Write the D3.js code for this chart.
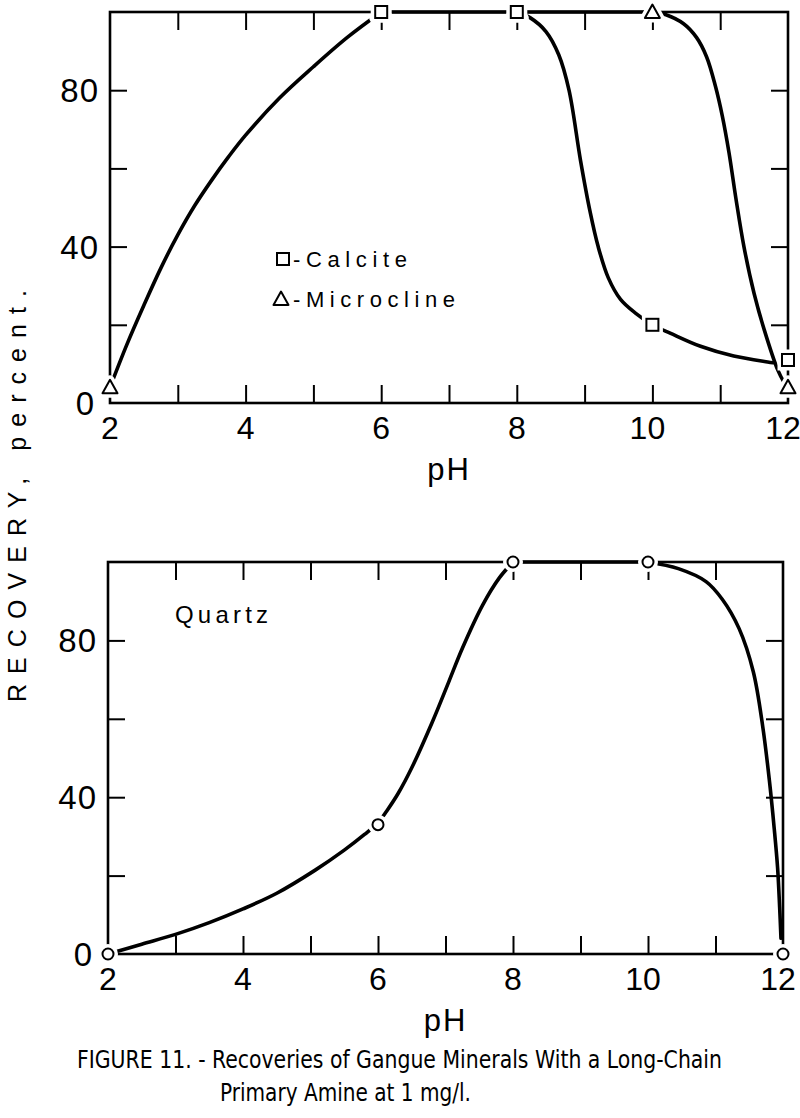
<!DOCTYPE html>
<html><head><meta charset="utf-8">
<script src="https://cdn.jsdelivr.net/npm/d3@7"></script>
<style>body{margin:0;background:#fff}svg{display:block}</style>
</head><body>
<svg id="c" width="800" height="1118"></svg>
<script>
// ---- tick values / labels ----
const phTicks = [3,4,5,6,7,8,9,10,11];
const phLabels = [2,4,6,8,10,12];
const recTicks = [20,40,60,80];
const recLabels = [0,40,80];

// ---- measured points (markers) ----
const calcitePH = [6,8,10,12];
const calciteRec = [100,100,20,11];
const microclinePH = [2,6,8,10,12];
const microclineRec = [4,100,100,100,4];
const quartzPH = [2,6,8,10,12];
const quartzRec = [0,33,100,100,0];

// ---- hand-drawn curve segments ----
const risePH  = [2, 2.25, 2.5, 2.75, 3, 3.25, 3.5, 3.75, 4, 4.5, 5, 5.5, 6];
const riseRec = [4, 15, 25, 34.5, 43, 50.5, 57, 63, 68.5, 78, 86, 93.5, 100];
const topFlatPH  = [6, 10];
const topFlatRec = [100, 100];
const calciteCurvePH  = [8, 8.2, 8.43, 8.62, 8.77, 8.94, 9.08, 9.2, 9.35, 9.53, 9.75, 10, 10.27, 10.71, 11.2, 11.7, 11.78];
const calciteCurveRec = [100, 98.5, 95, 89, 80, 62, 49, 40, 32, 26.5, 23, 20, 17.8, 14.5, 12, 10.5, 10.3];
const microCurvePH  = [10, 10.2, 10.46, 10.65, 10.8, 10.93, 11.03, 11.13, 11.23, 11.35, 11.5, 11.65, 11.85, 11.95];
const microCurveRec = [100, 99.3, 97, 93.5, 88.5, 81, 73.5, 64, 52.5, 40, 28, 18.7, 8.4, 5];
const quartzRisePH  = [2, 2.5, 3, 3.5, 4, 4.5, 5.07, 5.5, 5.8, 6, 6.13, 6.3, 6.5, 6.8, 7.05, 7.25, 7.55, 7.8, 8];
const quartzRiseRec = [0, 2.5, 5, 8, 11.5, 15.5, 21.4, 26.5, 30.5, 33.5, 36.5, 41, 47.5, 59, 69.5, 78, 89, 96, 100];
const quartzFlatPH  = [8, 10];
const quartzFlatRec = [100, 100];
const quartzDropPH  = [10, 10.45, 10.86, 11.1, 11.35, 11.56, 11.7, 11.8, 11.87, 11.92, 11.95, 11.97];
const quartzDropRec = [100, 98.3, 95, 90.5, 83, 72, 58, 44, 32, 22, 12, 4];

const svg = d3.select("#c");
const FONT = "'Liberation Sans', Arial, sans-serif";

function zip(xs, ys){ return xs.map((v,i)=>[v, ys[i]]); }

function panel(cfg){
  const x = d3.scaleLinear().domain([2,12]).range([cfg.x0, cfg.x1]);
  const y = d3.scaleLinear().domain([0,100]).range([cfg.y0, cfg.y1]);
  const g = svg.append("g");

  g.append("rect").attr("x", x(2)).attr("y", y(100))
    .attr("width", x(12)-x(2)).attr("height", y(0)-y(100))
    .attr("fill","none").attr("stroke","#000").attr("stroke-width",2.6);

  const tickStyle = sel => { sel.select(".domain").remove();
    sel.selectAll(".tick line").attr("stroke","#000").attr("stroke-width",2); };
  g.append("g").attr("transform",`translate(0,${y(0)})`)
    .call(d3.axisBottom(x).tickValues(phTicks).tickSize(-18).tickFormat("")).call(tickStyle);
  g.append("g").attr("transform",`translate(0,${y(100)})`)
    .call(d3.axisTop(x).tickValues(phTicks).tickSize(-18).tickFormat("")).call(tickStyle);
  g.append("g").attr("transform",`translate(${x(2)},0)`)
    .call(d3.axisLeft(y).tickValues(recTicks).tickSize(-17).tickFormat("")).call(tickStyle);
  g.append("g").attr("transform",`translate(${x(12)},0)`)
    .call(d3.axisRight(y).tickValues(recTicks).tickSize(-17).tickFormat("")).call(tickStyle);

  g.selectAll(".xl").data(phLabels).enter().append("text")
    .attr("x", d=>x(d) - (d>=10 ? 5 : 0)).attr("y", y(0)+36)
    .attr("text-anchor","middle").attr("font-family",FONT).attr("font-size",32)
    .text(d=>d);
  g.selectAll(".yl").data(recLabels).enter().append("text")
    .attr("x", d=> d===0 ? x(2)-15 : x(2)-11).attr("y", d=>y(d)+12)
    .attr("text-anchor","end").attr("font-family",FONT).attr("font-size",33)
    .attr("letter-spacing",1).text(d=>d);
  g.append("text").attr("x",(x(2)+x(12))/2).attr("y", y(0)+77)
    .attr("text-anchor","middle").attr("font-family",FONT).attr("font-size",31)
    .attr("letter-spacing",2).text("pH");

  const line = d3.line().x(d=>x(d[0])).y(d=>y(d[1])).curve(d3.curveCatmullRom.alpha(0.5));
  cfg.curves.forEach(c=>{
    g.append("path").attr("d", line(c)).attr("fill","none")
      .attr("stroke","#000").attr("stroke-width",3.6).attr("stroke-linecap","round");
  });
  return {g,x,y};
}

function marker(g, type, cx, cy, halo){
  const sw = halo ? 9 : 2, col = halo ? "#fff" : "#000", fill = "#fff";
  if(type==="square"){
    g.append("rect").attr("x",cx-6).attr("y",cy-6).attr("width",12).attr("height",12)
      .attr("fill",fill).attr("stroke",col).attr("stroke-width",sw);
  } else if(type==="tri"){
    g.append("path").attr("d",`M${cx},${cy-7.5}L${cx+7.5},${cy+6}L${cx-7.5},${cy+6}Z`)
      .attr("fill",fill).attr("stroke",col).attr("stroke-width",sw).attr("stroke-linejoin","round");
  } else {
    g.append("circle").attr("cx",cx).attr("cy",cy).attr("r",5.5)
      .attr("fill",fill).attr("stroke",col).attr("stroke-width",sw);
  }
}

function markers(p, type, xs, ys){
  const pts = zip(xs, ys);
  pts.forEach(d=>marker(p.g, type, p.x(d[0]), p.y(d[1]), true));
  pts.forEach(d=>marker(p.g, type, p.x(d[0]), p.y(d[1]), false));
}

// ---- top panel ----
const topP = panel({x0:110, x1:788, y0:403, y1:12,
  curves:[zip(risePH,riseRec), zip(topFlatPH,topFlatRec),
          zip(calciteCurvePH,calciteCurveRec), zip(microCurvePH,microCurveRec)]});
markers(topP, "tri", microclinePH, microclineRec);
markers(topP, "square", calcitePH, calciteRec);

marker(topP.g, "square", 283, 259, false);
topP.g.append("text").attr("x",293).attr("y",267).attr("font-family",FONT).attr("font-size",22)
  .attr("textLength",114).attr("lengthAdjust","spacing").text("-Calcite");
marker(topP.g, "tri", 281, 299, false);
topP.g.append("text").attr("x",293).attr("y",307).attr("font-family",FONT).attr("font-size",22)
  .attr("textLength",162).attr("lengthAdjust","spacing").text("-Microcline");

// ---- bottom panel ----
const botP = panel({x0:108, x1:783, y0:954, y1:562,
  curves:[zip(quartzRisePH, quartzRiseRec), zip(quartzFlatPH, quartzFlatRec), zip(quartzDropPH, quartzDropRec)]});
markers(botP, "circle", quartzPH, quartzRec);
botP.g.append("text").attr("x",175).attr("y",623).attr("font-family",FONT).attr("font-size",24)
  .attr("textLength",93).attr("lengthAdjust","spacing").text("Quartz");

// ---- y title ----
svg.append("text").attr("transform","translate(26,496) rotate(-90)")
  .attr("text-anchor","middle").attr("font-family",FONT).attr("font-size",25)
  .attr("textLength",412).attr("lengthAdjust","spacing").text("RECOVERY, percent.");

// ---- caption ----
const CAP = "'Liberation Sans Narrow','DejaVu Sans Condensed','Liberation Sans',sans-serif";
svg.append("text").attr("x",77).attr("y",1068).attr("font-family",CAP).attr("font-size",25)
  .attr("textLength",645).attr("lengthAdjust","spacingAndGlyphs")
  .text("FIGURE 11. - Recoveries of Gangue Minerals With a Long-Chain");
svg.append("text").attr("x",220).attr("y",1101).attr("font-family",CAP).attr("font-size",25)
  .attr("textLength",251).attr("lengthAdjust","spacingAndGlyphs")
  .text("Primary Amine at 1 mg/l.");
</script>
</body></html>
